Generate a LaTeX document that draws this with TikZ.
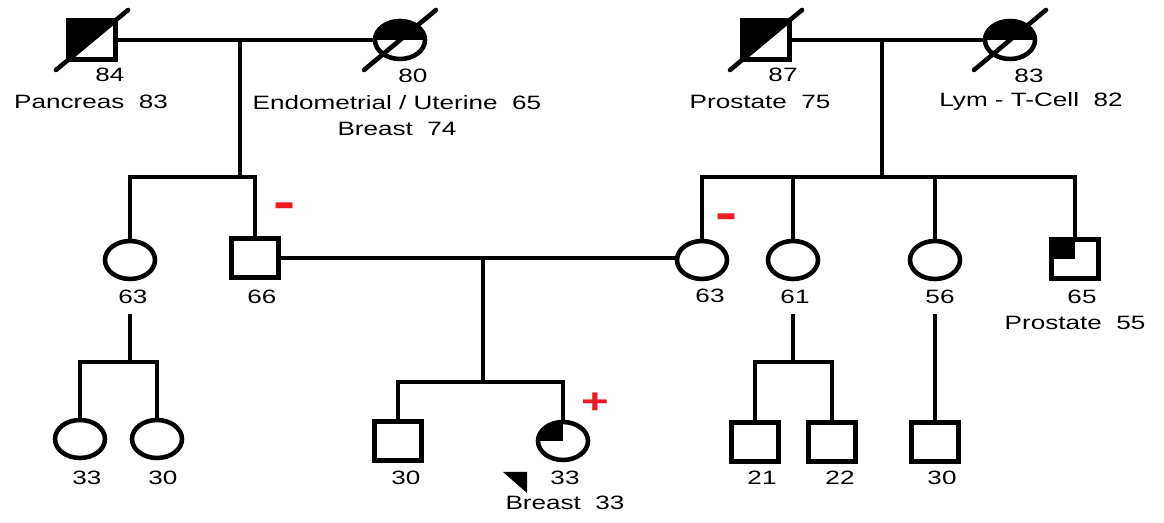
\documentclass[tikz,border=0pt]{standalone}
\usepackage{fontspec}
\setmainfont{Liberation Sans}[FakeStretch=1.35]
\usepackage{tikz}
\usetikzlibrary{positioning, shapes.geometric}
\definecolor{testred}{RGB}{237, 28, 36}

\tikzset{
  male/.style={draw, rectangle, minimum width=0.95cm, minimum height=0.78cm, inner sep=0pt},
  female/.style={draw, ellipse, minimum width=1.0cm, minimum height=0.76cm, inner sep=0pt},
  affected/.style={path picture={\fill (path picture bounding box.north west) rectangle (path picture bounding box.center);}},
  halfsq/.style={path picture={\fill (path picture bounding box.north west) -- (path picture bounding box.north east) -- (path picture bounding box.south west) -- cycle;}},
  halfci/.style={path picture={\fill (path picture bounding box.north west) rectangle (path picture bounding box.east);}},
  age/.style={font=\fontsize{11}{13}\selectfont, inner sep=0pt},
  result/.style={text=testred, inner sep=0pt, font=\bfseries\fontsize{20}{20}\selectfont},
  slash/.style={line cap=round}
}

\begin{document}
\begin{tikzpicture}[x=0.02cm, y=-0.02cm, line width=2.6pt]
  \useasboundingbox (0,0) rectangle (1164,523);
  % Generation I: both sets of grandparents (deceased)
  \node[male, halfsq] (gf1) at (92,40) {};
  \node[female, halfci] (gm1) at (400,40) {};
  \node[male, halfsq] (gf2) at (766,40) {};
  \node[female, halfci] (gm2) at (1010,40) {};
  \foreach \p in {gf1, gm1, gf2, gm2}
    \draw[slash] ([shift={(-36,30)}]\p.center) -- ([shift={(36,-30)}]\p.center);

  \node[age] (a84) at (110,75) {84};
  \node[age] (c84) at (91,102) {Pancreas~ 83};
  \node[age] (a80) at (413,76) {80};
  \node[age] (c80) at (397,103) {Endometrial / Uterine~ 65};
  \node[age] (d80) at (397,129) {Breast~ 74};
  \node[age] (a87) at (783,75) {87};
  \node[age] (c87) at (760,102) {Prostate~ 75};
  \node[age] (a83) at (1029,76) {83};
  \node[age] (c83) at (1031,102) {Lym - T-Cell~ 82};

  % Generation II
  \node[female] (aunt1) at (130,260) {};
  \node[male] (father) at (255,258) {};
  \node[female] (mother) at (702,260) {};
  \node[female] (aunt2) at (793,260) {};
  \node[female] (aunt3) at (935,260) {};
  \node[male, affected] (uncle) at (1075,259) {};

  \node[age] (a63l) at (133,297) {63};
  \node[age] (a66) at (262,297) {66};
  \node[age] (a63r) at (710,296) {63};
  \node[age] (a61) at (795,297) {61};
  \node[age] (a56) at (940,297) {56};
  \node[age] (a65) at (1082,297) {65};
  \node[age] (c65) at (1075,323) {Prostate~ 55};

  \node[result, font=\bfseries\fontsize{28}{28}\selectfont] (rf) at (285,211) {-};
  \node[result, font=\bfseries\fontsize{28}{28}\selectfont] (rm) at (727,222) {-};

  % Generation III
  \node[female] (cousin1) at (80,439) {};
  \node[female] (cousin2) at (157,439) {};
  \node[male] (brother) at (398,441) {};
  \node[female, affected] (proband) at (563,441) {};
  \node[male] (cousin3) at (755,442) {};
  \node[male] (cousin4) at (832,442) {};
  \node[male] (cousin5) at (935,442) {};

  \node[age] (a33l) at (87,478) {33};
  \node[age] (a30l) at (163,478) {30};
  \node[age] (a30b) at (406,478) {30};
  \node[age] (a33p) at (565,478) {33};
  \node[age] (cp) at (565,503) {Breast~ 33};
  \node[age] (a21) at (762,478) {21};
  \node[age] (a22) at (840,478) {22};
  \node[age] (a30r) at (942,478) {30};

  \node[result] (rp) at (595,403) {+};
  \fill ([shift={(-60,31)}]proband.center) -- ++(24,0) -- ++(0,21) -- cycle;

  % lines of descent
  \coordinate (m1) at (240,40);
  \coordinate (s1) at (240,177);
  \coordinate (m2) at (882,40);
  \coordinate (s2) at (882,177);
  \coordinate (m3) at (483,260);
  \coordinate (s3) at (483,382);
  \coordinate (s4) at (130,362);
  \coordinate (s5) at (793,362);

  \draw (gf1) -- (gm1);
  \draw (gf2) -- (gm2);
  \draw (m1) -- (s1);
  \draw (m2) -- (s2);
  \draw (aunt1.north) |- (s1) -| (father.north);
  \draw (mother.north) |- (s2) -| (uncle.north);
  \draw (aunt2.north) -- (aunt2.north |- s2);
  \draw (aunt3.north) -- (aunt3.north |- s2);

  \draw (father.east) -- (mother.west |- father.east);
  \draw (m3) -- (s3);
  \draw (brother.north) |- (s3) -| (proband.north);

  \draw (s4 |- a63l.south) ++(0,8) -- (s4);
  \draw (cousin1.north) |- (s4) -| (cousin2.north);
  \draw (s5 |- a61.south) ++(0,8) -- (s5);
  \draw (cousin3.north) |- (s5) -| (cousin4.north);
  \draw (cousin5.north |- a56.south) ++(0,8) -- (cousin5.north);
\end{tikzpicture}
\end{document}
